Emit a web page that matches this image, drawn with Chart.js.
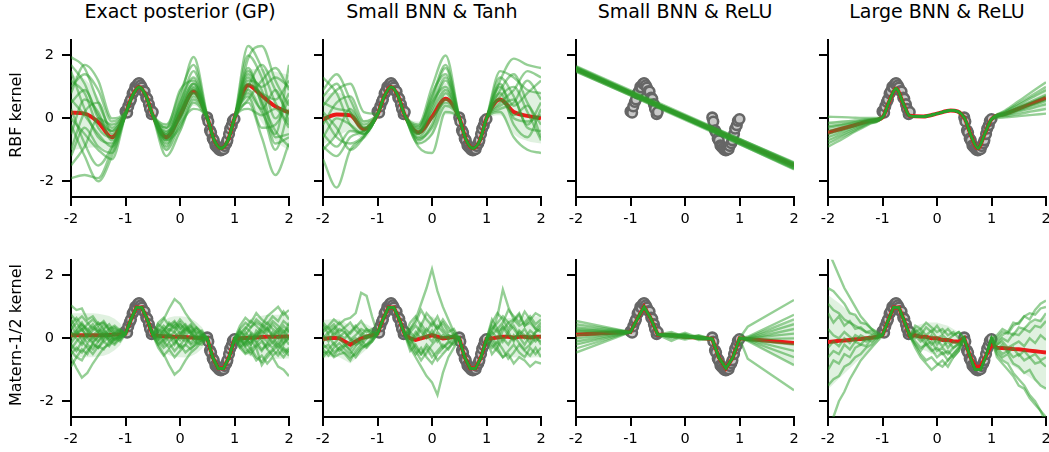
<!DOCTYPE html>
<html>
<head>
<meta charset="utf-8">
<script src="https://cdn.jsdelivr.net/npm/chart.js@4.4.1/dist/chart.umd.min.js"></script>
<style>
  body { margin: 0; background: #fff; }
  #fig { position: relative; width: 1049px; height: 452px; overflow: hidden; font-family: "DejaVu Sans", sans-serif; color: #000; }
  #fig canvas { position: absolute; }
  .col-title { position: absolute; width: 260px; text-align: center; font-size: 19px; line-height: 19px; white-space: nowrap; }
  .row-label { position: absolute; font-size: 16px; line-height: 16px; white-space: nowrap; transform: translate(-50%, -50%) rotate(-90deg); }
</style>
</head>
<body>
<div id="fig"></div>
<script>
// titles and axis ticks
const colTitles = ['Exact posterior (GP)', 'Small BNN & Tanh', 'Small BNN & ReLU', 'Large BNN & ReLU'];
const rowLabels = ['RBF kernel', 'Matern-1/2 kernel'];
const xTicks = [-2, -1, 0, 1, 2];
const xTickLabels = ['-2', '-1', '0', '1', '2'];
const yTicks = [-2, 0, 2];
const yTickLabels = ['-2', '0', '2'];

// x grids
const xGrid = [-2, -1.75, -1.5, -1.25, -1, -0.875, -0.75, -0.625, -0.5, -0.25, 0, 0.25, 0.5, 0.625, 0.75, 0.875, 1, 1.25, 1.5, 1.75, 2];
const xLine = [-2, 2];
const xRough = [-2, -1.9, -1.8, -1.7, -1.6, -1.5, -1.4, -1.3, -1.2, -1.1, -1, -0.9, -0.8, -0.7, -0.6, -0.5, -0.4, -0.3, -0.2, -0.1, 0,
  0.1, 0.2, 0.3, 0.4, 0.5, 0.6, 0.7, 0.8, 0.9, 1, 1.1, 1.2, 1.3, 1.4, 1.5, 1.6, 1.7, 1.8, 1.9, 2];
const xKink = [-2, -1, -0.875, -0.75, -0.625, -0.5, -0.25, 0, 0.25, 0.5, 0.625, 0.75, 0.875, 1, 1.15, 2];

// training data
const obsX = [-1.0, -0.97, -0.95, -0.92, -0.9, -0.87, -0.85, -0.82, -0.8, -0.77, -0.75, -0.72, -0.7, -0.67, -0.65, -0.62, -0.6, -0.57, -0.55, -0.52, -0.5,
  0.5, 0.52, 0.55, 0.57, 0.6, 0.62, 0.65, 0.67, 0.7, 0.72, 0.75, 0.77, 0.8, 0.82, 0.85, 0.87, 0.9, 0.92, 0.95, 0.97, 1.0];
const obsY = [0.22, 0.18, 0.38, 0.52, 0.6, 0.79, 0.85, 1.0, 0.98, 1.1, 1.12, 1.05, 0.98, 0.87, 0.85, 0.66, 0.62, 0.45, 0.3, 0.13, 0.2,
  0.03, -0.1, -0.38, -0.45, -0.64, -0.7, -0.86, -0.9, -0.95, -1.0, -1.02, -1.0, -0.98, -0.88, -0.79, -0.7, -0.5, -0.33, -0.22, -0.08, -0.02];

// --- row 1: RBF kernel ---
const gpRbfMean = [0.18, 0.15, -0.12, -0.6, 0.15, 0.72, 1.0, 0.72, 0.1, -0.6, 0.1, 0.85, 0.02, -0.68, -0.95, -0.72, 0.0, 1.05, 0.72, 0.38, 0.18];
const gpRbfUpper = [1.38, 1.25, 0.68, -0.15, 0.25, 0.8, 1.08, 0.8, 0.2, -0.15, 0.7, 1.3, 0.12, -0.6, -0.87, -0.64, 0.1, 1.55, 1.57, 1.48, 1.38];
const gpRbfLower = [-1.02, -0.95, -0.92, -1.05, 0.05, 0.64, 0.92, 0.64, 0.0, -1.05, -0.5, 0.4, -0.08, -0.76, -1.03, -0.8, -0.1, 0.55, -0.13, -0.72, -1.02];
const gpRbfSamples = [
  [1.95, 1.6, 0.5, -0.3, 0.2, 0.72, 1.0, 0.7, 0.12, -0.3, 0.6, 1.95, 0.1, -0.66, -0.95, -0.7, 0.02, 2.3, 1.6, 0.5, -0.2],
  [-1.9, -1.8, -1.9, -1.0, 0.1, 0.68, 0.98, 0.74, 0.08, -1.2, -0.4, 0.5, -0.05, -0.7, -0.97, -0.74, -0.02, 0.5, -0.6, -1.8, -0.8],
  [1.0, 1.4, 0.9, -0.1, 0.18, 0.7, 1.0, 0.72, 0.1, -0.5, 0.3, 1.1, 0.02, -0.68, -0.95, -0.72, 0.0, 1.9, 2.3, 1.2, 0.4],
  [0.3, -0.8, -1.5, -0.9, 0.12, 0.7, 1.0, 0.72, 0.1, -0.8, -0.1, 0.7, 0.0, -0.68, -0.94, -0.72, 0.0, 0.9, 0.2, -0.5, 1.7],
  [-0.5, 0.6, 0.2, -0.7, 0.15, 0.72, 1.0, 0.7, 0.1, -0.6, 0.4, 1.5, 0.05, -0.68, -0.96, -0.7, 0.0, 1.4, 1.0, 1.3, 1.0],
  [1.5, 0.3, -0.6, -0.8, 0.1, 0.7, 1.0, 0.72, 0.12, -0.4, 0.0, 0.9, 0.0, -0.7, -0.95, -0.72, 0.02, 0.7, -0.3, -0.2, 0.6],
  [-1.2, -0.3, -0.9, -1.1, 0.12, 0.7, 0.98, 0.72, 0.1, -0.9, 0.2, 0.8, 0.02, -0.68, -0.95, -0.7, -0.02, 1.2, 0.9, -0.6, -0.5],
  [0.8, 1.7, 1.2, 0.0, 0.2, 0.72, 1.0, 0.7, 0.1, -0.7, -0.3, 0.6, 0.0, -0.68, -0.94, -0.72, 0.0, 1.0, 1.7, 0.9, 0.1],
  [-0.2, -1.2, -2.0, -1.2, 0.1, 0.7, 1.0, 0.72, 0.1, -0.3, 0.9, 1.2, 0.05, -0.68, -0.95, -0.72, 0.0, 1.6, 0.4, -1.0, 0.3],
  [0.5, 0.9, 0.1, -0.4, 0.15, 0.72, 1.0, 0.72, 0.1, -0.55, 0.1, 0.95, 0.02, -0.66, -0.95, -0.72, 0.0, 1.1, 0.8, 0.6, 1.2],
  [-1.0, 0.2, 0.5, -0.5, 0.15, 0.7, 1.0, 0.7, 0.1, -1.0, -0.2, 0.3, 0.0, -0.7, -0.95, -0.72, 0.0, 0.3, 0.1, 0.3, -0.3],
  [1.2, 0.8, -0.3, -0.6, 0.12, 0.7, 1.0, 0.72, 0.1, -0.45, 0.5, 1.3, 0.02, -0.68, -0.95, -0.72, 0.0, 2.0, 1.3, 0.0, 0.8],
  [0.0, -0.5, -1.0, -1.3, 0.1, 0.7, 1.0, 0.72, 0.1, -0.7, 0.0, 0.8, 0.0, -0.68, -0.95, -0.72, 0.0, 0.8, 0.3, 0.9, -0.1],
  [-1.5, -0.9, 0.0, -0.2, 0.18, 0.72, 1.0, 0.7, 0.12, -0.2, 0.8, 1.7, 0.05, -0.66, -0.95, -0.7, 0.02, 1.3, 0.5, -0.4, -0.9],
  [0.6, 0.1, -0.5, -0.9, 0.12, 0.7, 1.0, 0.72, 0.08, -0.65, 0.2, 1.0, 0.0, -0.7, -0.95, -0.72, 0.0, 0.6, 1.2, 1.6, 0.9],
  [1.7, 1.1, 0.0, -0.4, 0.15, 0.72, 1.0, 0.72, 0.1, -0.5, 0.35, 1.1, 0.02, -0.68, -0.95, -0.72, 0.0, 1.5, 0.6, -0.8, -0.6]
];

const tanhRbfMean = [-0.03, 0.12, 0.1, -0.35, 0.12, 0.7, 1.0, 0.72, 0.1, -0.45, 0.05, 0.62, 0.02, -0.68, -0.95, -0.72, 0.0, 0.6, 0.2, 0.08, 0.0];
const tanhRbfUpper = [0.77, 0.82, 0.6, -0.05, 0.2, 0.78, 1.08, 0.8, 0.18, -0.1, 0.65, 1.12, 0.1, -0.6, -0.87, -0.64, 0.08, 1.1, 0.9, 0.88, 0.8];
const tanhRbfLower = [-0.83, -0.58, -0.4, -0.65, 0.04, 0.62, 0.92, 0.64, 0.02, -0.8, -0.55, 0.12, -0.06, -0.76, -1.03, -0.8, -0.08, 0.1, -0.5, -0.72, -0.8];
const tanhRbfSamples = [
  [0.9, 1.4, 0.6, -0.2, 0.15, 0.7, 1.0, 0.72, 0.1, -0.2, 1.0, 2.0, 0.05, -0.68, -0.95, -0.72, 0.0, 1.2, 1.9, 1.7, 1.6],
  [-1.3, -2.2, -1.0, -0.6, 0.1, 0.7, 1.0, 0.72, 0.1, -0.9, -1.1, 0.2, 0.0, -0.7, -0.95, -0.72, 0.0, 0.2, -0.6, -1.0, -1.1],
  [0.5, 0.3, 0.2, -0.3, 0.12, 0.7, 1.0, 0.72, 0.1, -0.3, 0.6, 1.6, 0.02, -0.68, -0.95, -0.72, 0.0, 1.0, 0.4, 0.8, 1.2],
  [-0.5, -0.9, -0.4, -0.45, 0.12, 0.7, 1.0, 0.72, 0.1, -0.6, 0.0, 0.5, 0.0, -0.68, -0.95, -0.72, 0.0, 0.4, 0.6, -0.3, -0.4],
  [1.3, 0.8, -0.2, -0.5, 0.12, 0.7, 1.0, 0.72, 0.1, -0.5, 0.3, 1.2, 0.02, -0.68, -0.95, -0.72, 0.0, 1.5, 1.3, 0.9, 0.8],
  [-0.2, 0.5, 0.7, -0.1, 0.15, 0.7, 1.0, 0.72, 0.1, -0.8, -0.5, 0.4, 0.0, -0.68, -0.95, -0.72, 0.0, 0.8, -0.2, -0.6, 0.3],
  [0.2, -0.3, -1.0, -0.6, 0.1, 0.7, 1.0, 0.72, 0.1, -0.35, 0.8, 1.4, 0.02, -0.68, -0.95, -0.72, 0.0, 0.7, 1.0, 0.2, -0.7],
  [-1.0, -0.5, 0.3, -0.3, 0.12, 0.7, 1.0, 0.72, 0.1, -0.7, -0.2, 0.8, 0.0, -0.68, -0.95, -0.72, 0.0, 0.3, 0.5, 1.2, 0.6],
  [0.7, 1.1, 0.2, -0.4, 0.12, 0.7, 1.0, 0.72, 0.1, -0.4, 0.2, 0.9, 0.02, -0.68, -0.95, -0.72, 0.0, 1.1, 0.0, -0.1, 0.1],
  [-0.6, 0.0, -0.2, -0.5, 0.12, 0.7, 1.0, 0.72, 0.1, -0.5, 0.5, 1.0, 0.0, -0.68, -0.95, -0.72, 0.0, 0.9, 1.4, 0.5, -0.2],
  [0.4, 0.9, 1.1, 0.2, 0.15, 0.7, 1.0, 0.72, 0.1, -0.25, 0.7, 1.7, 0.05, -0.68, -0.95, -0.72, 0.0, 0.5, 0.9, 1.5, 1.3],
  [-0.9, -1.2, -0.6, -0.4, 0.12, 0.7, 1.0, 0.72, 0.1, -0.65, -0.3, 0.6, 0.0, -0.68, -0.95, -0.72, 0.0, 0.6, 0.1, 0.4, -0.6],
  [0.1, -0.6, -0.8, -0.55, 0.1, 0.7, 1.0, 0.72, 0.1, -0.45, 0.4, 1.3, 0.02, -0.68, -0.95, -0.72, 0.0, 1.3, 0.7, -0.2, 0.5]
];

const smallReluRbfMean = [1.57, -1.5];
const smallReluRbfUpper = [1.64, -1.38];
const smallReluRbfLower = [1.5, -1.62];
const smallReluRbfSamples = [
  [1.62, -1.45], [1.52, -1.55], [1.66, -1.42], [1.5, -1.6], [1.58, -1.48], [1.55, -1.53],
  [1.64, -1.5], [1.53, -1.44], [1.6, -1.58], [1.57, -1.4], [1.48, -1.52], [1.6, -1.62]
];

const largeReluRbfMean = [-0.45, -0.33, -0.21, -0.09, 0.03, 0.55, 0.95, 0.5, 0.08, 0.06, 0.15, 0.25, 0.02, -0.55, -0.95, -0.5, -0.03, 0.14, 0.31, 0.48, 0.65];
const largeReluRbfUpper = [-0.1, -0.07, -0.05, -0.02, 0.08, 0.6, 1.0, 0.55, 0.12, 0.1, 0.19, 0.29, 0.06, -0.5, -0.9, -0.45, 0.01, 0.22, 0.47, 0.72, 0.97];
const largeReluRbfLower = [-0.8, -0.59, -0.37, -0.16, 0.0, 0.5, 0.9, 0.45, 0.04, 0.02, 0.11, 0.21, -0.02, -0.6, -1.0, -0.55, -0.07, 0.06, 0.15, 0.24, 0.33];
const largeReluRbfSamples = [
  [0.05, 0.04, 0.02, 0.01, 0.03, 0.55, 0.95, 0.5, 0.08, 0.06, 0.15, 0.25, 0.02, -0.55, -0.95, -0.5, -0.03, 0.25, 0.55, 0.85, 1.15],
  [-0.15, -0.11, -0.07, -0.03, 0.03, 0.55, 0.95, 0.5, 0.08, 0.06, 0.15, 0.25, 0.02, -0.55, -0.95, -0.5, -0.03, 0.2, 0.43, 0.67, 0.9],
  [-0.3, -0.22, -0.14, -0.06, 0.03, 0.55, 0.95, 0.5, 0.08, 0.06, 0.15, 0.25, 0.02, -0.55, -0.95, -0.5, -0.03, 0.17, 0.36, 0.56, 0.75],
  [-0.4, -0.3, -0.19, -0.08, 0.03, 0.55, 0.95, 0.5, 0.08, 0.06, 0.15, 0.25, 0.02, -0.55, -0.95, -0.5, -0.03, 0.13, 0.29, 0.44, 0.6],
  [-0.5, -0.37, -0.24, -0.1, 0.03, 0.55, 0.95, 0.5, 0.08, 0.06, 0.15, 0.25, 0.02, -0.55, -0.95, -0.5, -0.03, 0.1, 0.22, 0.33, 0.45],
  [-0.6, -0.44, -0.28, -0.13, 0.03, 0.55, 0.95, 0.5, 0.08, 0.06, 0.15, 0.25, 0.02, -0.55, -0.95, -0.5, -0.03, 0.07, 0.14, 0.22, 0.3],
  [-0.7, -0.52, -0.33, -0.15, 0.03, 0.55, 0.95, 0.5, 0.08, 0.06, 0.15, 0.25, 0.02, -0.55, -0.95, -0.5, -0.03, 0.03, 0.07, 0.11, 0.15],
  [-0.8, -0.59, -0.38, -0.17, 0.03, 0.55, 0.95, 0.5, 0.08, 0.06, 0.15, 0.25, 0.02, -0.55, -0.95, -0.5, -0.03, 0.22, 0.48, 0.74, 1.0],
  [-0.9, -0.67, -0.42, -0.19, 0.03, 0.55, 0.95, 0.5, 0.08, 0.06, 0.15, 0.25, 0.02, -0.55, -0.95, -0.5, -0.03, 0.12, 0.26, 0.41, 0.55],
  [-0.25, -0.19, -0.12, -0.05, 0.03, 0.55, 0.95, 0.5, 0.08, 0.06, 0.15, 0.25, 0.02, -0.55, -0.95, -0.5, -0.03, 0.15, 0.34, 0.52, 0.7]
];

// --- row 2: Matern-1/2 kernel ---
const gpMatMean = [0.1, 0.1, 0.1, 0.1, 0.1, 0.1, 0.1, 0.11, 0.12, 0.13, 0.15, 0.6, 0.98, 0.98, 0.6, 0.1,
  0.08, 0.07, 0.06, 0.05, 0.05, 0.04, 0.03, 0.02, 0.01, 0.0, -0.6, -0.95, -0.95, -0.6, -0.02,
  0.0, 0.01, 0.02, 0.03, 0.04, 0.05, 0.05, 0.05, 0.06, 0.06];
const gpMatUpper = [0.8, 0.8, 0.8, 0.8, 0.8, 0.78, 0.75, 0.71, 0.62, 0.48, 0.23, 0.68, 1.06, 1.06, 0.68, 0.18,
  0.43, 0.57, 0.66, 0.7, 0.7, 0.69, 0.63, 0.52, 0.36, 0.08, -0.52, -0.87, -0.87, -0.52, 0.06,
  0.35, 0.51, 0.62, 0.68, 0.72, 0.75, 0.75, 0.75, 0.76, 0.76];
const gpMatLower = [-0.6, -0.6, -0.6, -0.6, -0.6, -0.58, -0.55, -0.49, -0.38, -0.22, 0.07, 0.52, 0.9, 0.9, 0.52, 0.02,
  -0.27, -0.43, -0.54, -0.6, -0.6, -0.61, -0.57, -0.48, -0.34, -0.08, -0.68, -1.03, -1.03, -0.68, -0.1,
  -0.35, -0.49, -0.58, -0.62, -0.64, -0.65, -0.65, -0.65, -0.64, -0.64];
const gpMatSamples = [
  [1.05, 0.9, 0.95, 0.6, 0.7, 0.45, 0.5, 0.3, 0.35, 0.2, 0.15, 0.6, 0.98, 0.98, 0.6, 0.12, 0.35, 0.6, 0.95, 1.25, 1.1, 0.8, 0.55, 0.35, 0.15, 0.0, -0.6, -0.95, -0.95, -0.6, -0.02, 0.2, 0.1, 0.35, 0.5, 0.4, 0.7, 0.85, 1.0, 0.75, 0.9],
  [-0.6, -0.95, -1.25, -1.1, -0.8, -0.55, -0.3, -0.2, 0.0, 0.05, 0.12, 0.58, 0.97, 0.97, 0.62, 0.1, -0.2, -0.5, -0.85, -1.15, -1.0, -0.7, -0.45, -0.3, -0.1, 0.02, -0.62, -0.96, -0.95, -0.6, 0.0, -0.3, -0.5, -0.4, -0.7, -0.55, -0.8, -0.6, -0.9, -1.0, -1.2],
  [0.3, 0.5, 0.25, 0.45, 0.6, 0.4, 0.55, 0.3, 0.4, 0.25, 0.17, 0.62, 0.99, 0.97, 0.6, 0.13, 0.25, 0.1, 0.3, 0.2, 0.45, 0.3, 0.15, 0.3, 0.1, 0.01, -0.58, -0.94, -0.96, -0.62, -0.01, 0.3, 0.5, 0.35, 0.6, 0.45, 0.3, 0.55, 0.4, 0.2, 0.35],
  [-0.2, -0.4, -0.1, -0.3, -0.5, -0.25, -0.35, -0.1, -0.2, 0.0, 0.13, 0.6, 0.97, 0.99, 0.58, 0.11, -0.1, -0.3, -0.15, -0.4, -0.2, -0.45, -0.3, -0.2, -0.05, 0.0, -0.61, -0.95, -0.94, -0.59, -0.03, -0.2, -0.45, -0.3, -0.6, -0.75, -0.5, -0.35, -0.55, -0.3, -0.45],
  [0.6, 0.3, 0.5, 0.2, 0.0, 0.15, -0.1, 0.05, 0.2, 0.1, 0.15, 0.61, 0.98, 0.98, 0.61, 0.12, 0.2, 0.4, 0.25, 0.5, 0.35, 0.1, 0.25, -0.05, 0.1, 0.0, -0.6, -0.95, -0.95, -0.6, -0.02, 0.1, -0.1, 0.15, 0.0, 0.25, 0.1, -0.15, 0.05, -0.2, 0.1],
  [-0.9, -0.6, -0.7, -0.4, -0.2, -0.3, 0.0, 0.15, -0.05, 0.1, 0.14, 0.59, 0.98, 0.97, 0.6, 0.1, 0.0, -0.2, 0.1, -0.05, -0.25, 0.05, -0.15, 0.1, -0.05, 0.02, -0.6, -0.96, -0.95, -0.61, -0.02, -0.1, 0.2, -0.05, -0.3, -0.85, -0.6, -0.4, -0.2, -0.45, -0.3],
  [0.1, 0.25, -0.05, 0.15, 0.35, 0.2, 0.45, 0.25, 0.1, 0.2, 0.16, 0.6, 0.98, 0.98, 0.6, 0.13, 0.5, 0.65, 0.4, 0.55, 0.3, 0.45, 0.2, 0.35, 0.2, 0.01, -0.59, -0.95, -0.95, -0.6, -0.01, 0.4, 0.65, 0.5, 0.8, 0.6, 0.45, 0.7, 0.55, 0.85, 0.6],
  [0.4, 0.15, 0.3, 0.0, -0.15, 0.05, 0.2, -0.1, 0.05, -0.05, 0.14, 0.6, 0.98, 0.98, 0.6, 0.11, -0.3, -0.55, -0.35, -0.6, -0.4, -0.2, -0.35, -0.15, -0.2, 0.0, -0.6, -0.95, -0.95, -0.6, -0.02, 0.0, -0.2, 0.1, -0.15, 0.05, -0.1, 0.2, 0.0, 0.25, -0.05],
  [0.0, 0.2, 0.45, 0.3, 0.1, 0.25, 0.0, 0.2, 0.3, 0.15, 0.15, 0.6, 0.98, 0.98, 0.6, 0.12, 0.1, -0.1, -0.3, -0.15, 0.05, -0.1, 0.1, 0.05, 0.0, 0.0, -0.6, -0.95, -0.95, -0.6, -0.02, 0.15, 0.35, 0.2, 0.05, 0.3, 0.5, 0.3, 0.15, 0.4, 0.2],
  [-0.35, -0.1, 0.1, -0.15, 0.05, -0.1, 0.15, 0.0, -0.15, 0.05, 0.15, 0.6, 0.98, 0.98, 0.6, 0.12, 0.3, 0.2, 0.5, 0.35, 0.6, 0.4, 0.2, 0.0, -0.1, 0.0, -0.6, -0.95, -0.95, -0.6, -0.02, -0.05, -0.25, -0.1, 0.15, -0.05, -0.3, -0.1, -0.35, -0.15, 0.0],
  [0.75, 0.55, 0.7, 0.5, 0.3, 0.5, 0.3, 0.45, 0.2, 0.3, 0.15, 0.6, 0.98, 0.98, 0.6, 0.12, -0.05, 0.15, -0.1, 0.05, 0.2, 0.0, -0.2, -0.1, 0.05, 0.0, -0.6, -0.95, -0.95, -0.6, -0.02, 0.1, 0.3, 0.55, 0.4, 0.2, 0.35, 0.1, 0.3, 0.1, 0.5],
  [-0.5, -0.3, -0.45, -0.2, -0.35, -0.1, 0.1, -0.05, 0.1, 0.0, 0.15, 0.6, 0.98, 0.98, 0.6, 0.12, 0.15, -0.05, 0.2, 0.4, 0.15, 0.3, 0.45, 0.2, 0.1, 0.0, -0.6, -0.95, -0.95, -0.6, -0.02, -0.25, -0.1, -0.35, -0.2, -0.4, -0.15, -0.3, -0.1, -0.35, -0.55],
  [0.2, 0.0, -0.2, 0.1, -0.1, 0.05, 0.25, 0.1, -0.05, 0.1, 0.15, 0.6, 0.98, 0.98, 0.6, 0.12, 0.0, 0.25, 0.45, 0.3, 0.5, 0.2, 0.35, 0.1, 0.05, 0.0, -0.6, -0.95, -0.95, -0.6, -0.02, -0.15, 0.05, -0.2, 0.25, 0.1, 0.3, 0.05, 0.2, -0.1, 0.3],
  [-0.15, 0.1, 0.3, 0.05, 0.25, 0.35, 0.1, 0.3, 0.15, 0.05, 0.15, 0.6, 0.98, 0.98, 0.6, 0.12, -0.2, -0.05, 0.15, 0.0, -0.3, -0.2, 0.05, -0.15, -0.05, 0.0, -0.6, -0.95, -0.95, -0.6, -0.02, 0.25, 0.0, -0.2, 0.1, 0.4, 0.2, 0.45, 0.25, 0.55, 0.4],
  [0.45, 0.65, 0.4, 0.25, 0.45, 0.2, 0.3, 0.05, 0.15, 0.25, 0.15, 0.6, 0.98, 0.98, 0.6, 0.12, 0.45, 0.3, 0.05, 0.2, -0.05, 0.25, 0.4, 0.15, 0.25, 0.0, -0.6, -0.95, -0.95, -0.6, -0.02, -0.3, -0.15, 0.1, -0.1, -0.35, -0.2, 0.05, -0.25, 0.05, -0.2],
  [-0.4, -0.6, -0.35, -0.5, -0.15, -0.3, -0.1, -0.25, 0.0, -0.1, 0.15, 0.6, 0.98, 0.98, 0.6, 0.12, 0.05, 0.3, 0.1, -0.2, 0.1, 0.35, 0.15, -0.05, 0.15, 0.0, -0.6, -0.95, -0.95, -0.6, -0.02, 0.05, -0.3, -0.5, -0.25, -0.1, -0.35, -0.55, -0.4, -0.6, -0.35]
];

const tanhMatMean = [-0.02, 0.0, 0.02, 0.0, -0.1, -0.2, -0.1, 0.0, 0.05, 0.1, 0.15, 0.6, 0.98, 0.98, 0.6, 0.12,
  0.0, -0.05, 0.0, 0.05, 0.1, 0.05, 0.0, 0.02, 0.05, 0.0, -0.6, -0.95, -0.95, -0.6, -0.02,
  0.0, 0.03, 0.05, 0.05, 0.02, 0.05, 0.05, 0.03, 0.05, 0.05];
const tanhMatUpper = [0.58, 0.6, 0.62, 0.6, 0.5, 0.4, 0.45, 0.5, 0.45, 0.35, 0.23, 0.68, 1.06, 1.06, 0.68, 0.2,
  0.35, 0.45, 0.55, 0.65, 0.7, 0.6, 0.5, 0.4, 0.3, 0.08, -0.52, -0.87, -0.87, -0.52, 0.06,
  0.35, 0.5, 0.6, 0.65, 0.65, 0.7, 0.7, 0.68, 0.7, 0.7];
const tanhMatLower = [-0.62, -0.6, -0.58, -0.6, -0.7, -0.8, -0.65, -0.5, -0.35, -0.15, 0.07, 0.52, 0.9, 0.9, 0.52, 0.04,
  -0.35, -0.55, -0.55, -0.55, -0.5, -0.5, -0.5, -0.36, -0.2, -0.08, -0.68, -1.03, -1.03, -0.68, -0.1,
  -0.35, -0.44, -0.5, -0.55, -0.61, -0.6, -0.6, -0.62, -0.6, -0.6];
const tanhMatSamples = [
  [0.3, 0.4, 0.6, 0.45, 0.6, 0.65, 0.8, 1.45, 1.35, 0.7, 0.15, 0.6, 0.98, 0.98, 0.6, 0.12, 0.2, 0.0, 0.3, 0.1, -0.1, 0.2, 0.0, 0.1, 0.05, 0.0, -0.6, -0.95, -0.95, -0.6, -0.02, 0.3, 0.5, 0.7, 0.5, 0.6, 0.4, 0.5, 0.7, 0.45, 0.6],
  [-0.5, -0.4, -0.6, -0.5, -0.45, -0.6, -0.5, -0.3, -0.2, -0.1, 0.15, 0.6, 0.98, 0.98, 0.6, 0.12, 0.3, 0.6, 1.1, 1.6, 2.2, 1.5, 1.0, 0.6, 0.2, 0.0, -0.6, -0.95, -0.95, -0.6, -0.02, -0.2, -0.4, -0.6, -0.5, -0.8, -0.6, -0.7, -0.9, -0.75, -0.8],
  [0.1, -0.1, 0.2, 0.0, -0.2, -0.35, -0.1, 0.1, 0.0, 0.15, 0.15, 0.6, 0.98, 0.98, 0.6, 0.12, -0.3, -0.6, -0.9, -1.2, -1.4, -1.8, -1.1, -0.6, -0.3, 0.0, -0.6, -0.95, -0.95, -0.6, -0.02, 0.2, 0.7, 1.55, 1.0, 0.6, 0.8, 0.4, 0.5, 0.3, 0.2],
  [0.2, 0.35, 0.1, 0.3, 0.2, -0.05, 0.1, 0.3, 0.2, 0.3, 0.15, 0.6, 0.98, 0.98, 0.6, 0.12, 0.5, 0.7, 0.4, 0.8, 0.6, 0.3, 0.5, 0.2, 0.3, 0.0, -0.6, -0.95, -0.95, -0.6, -0.02, 0.6, 0.3, 0.5, 0.9, 0.7, 0.5, 0.85, 0.6, 0.8, 0.7],
  [-0.3, -0.2, -0.45, -0.3, -0.5, -0.7, -0.4, -0.2, -0.3, -0.1, 0.15, 0.6, 0.98, 0.98, 0.6, 0.12, -0.4, -0.2, -0.5, -0.3, -0.6, -0.4, -0.2, -0.35, -0.1, 0.0, -0.6, -0.95, -0.95, -0.6, -0.02, -0.5, -0.3, -0.6, -0.4, -0.2, -0.45, -0.6, -0.3, -0.5, -0.3],
  [0.5, 0.3, 0.45, 0.2, 0.35, 0.5, 0.25, 0.1, 0.3, 0.2, 0.15, 0.6, 0.98, 0.98, 0.6, 0.12, 0.1, -0.3, -0.5, -0.2, -0.4, -0.7, -0.5, -0.3, -0.1, 0.0, -0.6, -0.95, -0.95, -0.6, -0.02, 0.1, 0.3, -0.1, 0.2, 0.4, 0.1, 0.3, 0.0, 0.2, 0.4],
  [-0.1, 0.1, -0.2, 0.05, 0.2, 0.0, -0.2, -0.1, 0.1, 0.0, 0.15, 0.6, 0.98, 0.98, 0.6, 0.12, 0.3, 0.5, 0.9, 0.6, 0.4, 0.7, 0.3, 0.1, 0.0, 0.0, -0.6, -0.95, -0.95, -0.6, -0.02, -0.1, -0.3, 0.0, -0.2, 0.1, -0.15, -0.35, -0.2, 0.0, -0.1],
  [-0.6, -0.4, -0.55, -0.3, -0.2, -0.4, -0.6, -0.35, -0.2, 0.0, 0.15, 0.6, 0.98, 0.98, 0.6, 0.12, -0.1, 0.2, 0.0, 0.3, 0.1, 0.4, 0.2, 0.0, 0.1, 0.0, -0.6, -0.95, -0.95, -0.6, -0.02, 0.4, 0.2, 0.35, 0.1, -0.05, 0.2, 0.0, 0.25, 0.1, -0.2],
  [0.0, 0.2, 0.35, 0.1, 0.0, 0.2, 0.4, 0.2, 0.05, 0.2, 0.15, 0.6, 0.98, 0.98, 0.6, 0.12, -0.2, -0.5, -0.3, -0.6, -0.8, -0.5, -0.3, -0.1, -0.2, 0.0, -0.6, -0.95, -0.95, -0.6, -0.02, 0.0, -0.2, 0.25, 0.5, 0.3, 0.05, -0.2, 0.1, -0.1, 0.1],
  [-0.2, -0.35, -0.15, -0.4, -0.25, -0.1, 0.0, -0.2, 0.0, 0.05, 0.15, 0.6, 0.98, 0.98, 0.6, 0.12, 0.2, 0.4, 0.2, 0.0, 0.25, -0.1, 0.1, -0.05, 0.15, 0.0, -0.6, -0.95, -0.95, -0.6, -0.02, 0.2, 0.0, 0.4, 0.2, -0.1, 0.25, 0.1, -0.15, 0.2, 0.3],
  [0.4, 0.15, 0.3, 0.5, 0.3, 0.15, 0.35, 0.55, 0.3, 0.1, 0.15, 0.6, 0.98, 0.98, 0.6, 0.12, -0.2, 0.1, 0.45, 0.2, 0.5, 0.3, 0.6, 0.35, 0.1, 0.0, -0.6, -0.95, -0.95, -0.6, -0.02, 0.5, 0.8, 0.6, 0.3, 0.55, 0.75, 0.4, 0.6, 0.3, 0.5],
  [-0.35, -0.55, -0.3, -0.15, -0.35, -0.5, -0.25, -0.05, -0.25, -0.05, 0.15, 0.6, 0.98, 0.98, 0.6, 0.12, 0.0, -0.4, -0.7, -0.45, -0.2, 0.0, -0.3, -0.15, 0.0, 0.0, -0.6, -0.95, -0.95, -0.6, -0.02, -0.3, -0.1, -0.35, -0.65, -0.45, -0.2, -0.4, -0.55, -0.3, -0.6]
];

const smallReluMatMean = [0.12, 0.2, 0.62, 1.0, 0.62, 0.12, 0.1, 0.05, 0.02, -0.02, -0.62, -0.95, -0.62, 0.0, -0.02, -0.15];
const smallReluMatUpper = [0.45, 0.25, 0.66, 1.04, 0.66, 0.16, 0.16, 0.12, 0.08, 0.02, -0.58, -0.91, -0.58, 0.04, 0.05, 0.55];
const smallReluMatLower = [-0.2, 0.15, 0.58, 0.96, 0.58, 0.08, 0.04, -0.02, -0.04, -0.06, -0.66, -0.99, -0.66, -0.04, -0.09, -0.85];
const smallReluMatSamples = [
  [0.55, 0.2, 0.62, 1.0, 0.62, 0.12, 0.15, 0.05, 0.0, -0.02, -0.62, -0.95, -0.62, 0.0, 0.37, 1.22],
  [0.45, 0.2, 0.62, 1.0, 0.62, 0.12, 0.05, 0.18, 0.02, -0.02, -0.62, -0.95, -0.62, 0.0, 0.05, 0.75],
  [0.35, 0.2, 0.62, 1.0, 0.62, 0.12, 0.1, 0.0, 0.08, -0.02, -0.62, -0.95, -0.62, 0.0, 0.02, 0.6],
  [0.28, 0.2, 0.62, 1.0, 0.62, 0.12, -0.08, 0.1, 0.0, -0.02, -0.62, -0.95, -0.62, 0.0, 0.0, 0.45],
  [0.2, 0.2, 0.62, 1.0, 0.62, 0.12, 0.2, 0.05, 0.05, -0.02, -0.62, -0.95, -0.62, 0.0, -0.02, 0.3],
  [0.1, 0.2, 0.62, 1.0, 0.62, 0.12, 0.08, 0.12, -0.05, -0.02, -0.62, -0.95, -0.62, 0.0, 0.0, 0.15],
  [0.0, 0.2, 0.62, 1.0, 0.62, 0.12, 0.12, 0.02, 0.1, -0.02, -0.62, -0.95, -0.62, 0.0, -0.03, 0.0],
  [-0.1, 0.2, 0.62, 1.0, 0.62, 0.12, 0.0, 0.08, 0.04, -0.02, -0.62, -0.95, -0.62, 0.0, -0.05, -0.2],
  [-0.2, 0.2, 0.62, 1.0, 0.62, 0.12, 0.14, 0.1, -0.02, -0.02, -0.62, -0.95, -0.62, 0.0, -0.04, -0.4],
  [-0.32, 0.2, 0.62, 1.0, 0.62, 0.12, 0.06, -0.04, 0.06, -0.02, -0.62, -0.95, -0.62, 0.0, -0.06, -0.6],
  [-0.45, 0.2, 0.62, 1.0, 0.62, 0.12, 0.1, 0.06, 0.02, -0.02, -0.62, -0.95, -0.62, 0.0, -0.08, -0.85],
  [0.25, 0.2, 0.62, 1.0, 0.62, 0.12, 0.04, 0.14, 0.0, -0.02, -0.62, -0.95, -0.62, 0.0, -0.65, -1.65]
];

const largeReluMatMean = [-0.12, -0.1, -0.08, -0.07, -0.05, -0.03, -0.02, 0.0, 0.02, 0.05, 0.1, 0.55, 0.98, 0.98, 0.55, 0.08,
  0.1, 0.05, 0.05, 0.0, 0.0, -0.05, -0.05, -0.1, -0.1, 0.0, -0.55, -0.9, -0.9, -0.55, -0.2,
  -0.3, -0.31, -0.32, -0.34, -0.35, -0.37, -0.39, -0.41, -0.43, -0.45];
const largeReluMatUpper = [1.38, 1.25, 1.12, 0.98, 0.85, 0.72, 0.58, 0.45, 0.32, 0.25, 0.2, 0.65, 1.08, 1.08, 0.65, 0.18,
  0.4, 0.45, 0.5, 0.5, 0.5, 0.45, 0.4, 0.3, 0.2, 0.1, -0.45, -0.8, -0.8, -0.45, -0.1,
  -0.05, 0.04, 0.13, 0.21, 0.3, 0.38, 0.46, 0.54, 0.62, 0.7];
const largeReluMatLower = [-1.62, -1.45, -1.28, -1.12, -0.95, -0.78, -0.62, -0.45, -0.28, -0.15, 0.0, 0.45, 0.88, 0.88, 0.45, -0.02,
  -0.2, -0.35, -0.4, -0.5, -0.5, -0.55, -0.5, -0.5, -0.4, -0.1, -0.65, -1.0, -1.0, -0.65, -0.3,
  -0.55, -0.66, -0.77, -0.89, -1.0, -1.12, -1.24, -1.36, -1.48, -1.6];
const largeReluMatSamples = [
  [2.8, 2.4, 2.0, 1.6, 1.3, 1.0, 0.7, 0.5, 0.3, 0.2, 0.1, 0.55, 0.98, 0.98, 0.55, 0.08, 0.2, 0.3, 0.1, 0.25, 0.0, 0.1, -0.05, 0.1, 0.2, 0.0, -0.55, -1.0, -1.0, -0.55, 0.0, 0.0, 0.2, 0.15, 0.4, 0.5, 0.7, 0.6, 0.9, 1.1, 1.2],
  [-2.8, -2.5, -2.0, -1.7, -1.3, -1.0, -0.7, -0.5, -0.3, -0.1, 0.1, 0.55, 0.98, 0.98, 0.55, 0.08, -0.2, -0.5, -0.7, -0.6, -0.8, -0.9, -0.7, -0.5, -0.3, 0.0, -0.55, -1.0, -1.0, -0.55, 0.0, -0.5, -0.7, -0.8, -1.1, -1.3, -1.5, -1.8, -2.0, -2.3, -2.7],
  [1.6, 1.5, 1.3, 1.1, 0.8, 0.75, 0.5, 0.45, 0.3, 0.15, 0.1, 0.55, 0.98, 0.98, 0.55, 0.08, 0.4, 0.3, 0.5, 0.35, 0.2, 0.3, 0.1, 0.2, 0.0, 0.0, -0.55, -1.0, -1.0, -0.55, 0.0, -0.1, 0.1, 0.2, 0.1, 0.35, 0.3, 0.5, 0.6, 0.55, 0.8],
  [-1.5, -1.3, -1.2, -0.9, -0.8, -0.6, -0.5, -0.3, -0.2, 0.0, 0.1, 0.55, 0.98, 0.98, 0.55, 0.08, -0.1, -0.3, -0.2, -0.4, -0.3, -0.5, -0.4, -0.6, -0.4, 0.0, -0.55, -1.0, -1.0, -0.55, 0.0, -0.4, -0.6, -0.5, -0.8, -0.9, -1.1, -1.0, -1.3, -1.5, -1.6],
  [0.8, 0.5, 0.7, 0.4, 0.55, 0.3, 0.35, 0.2, 0.25, 0.1, 0.1, 0.55, 0.98, 0.98, 0.55, 0.08, 0.1, -0.1, 0.05, -0.2, -0.05, -0.25, -0.1, -0.3, -0.15, 0.0, -0.55, -1.0, -1.0, -0.55, 0.0, -0.2, -0.1, -0.3, -0.2, -0.1, -0.25, 0.0, -0.15, 0.1, -0.05],
  [-0.6, -0.4, -0.5, -0.2, -0.35, -0.1, -0.2, 0.0, -0.1, 0.05, 0.1, 0.55, 0.98, 0.98, 0.55, 0.08, 0.3, 0.1, 0.35, 0.2, 0.4, 0.15, 0.3, 0.1, 0.2, 0.0, -0.55, -1.0, -1.0, -0.55, 0.0, -0.3, -0.5, -0.4, -0.6, -0.5, -0.7, -0.6, -0.8, -0.75, -0.9],
  [0.3, 0.1, 0.0, 0.2, 0.05, -0.1, 0.1, 0.0, 0.1, 0.05, 0.1, 0.55, 0.98, 0.98, 0.55, 0.08, -0.3, -0.6, -0.8, -1.0, -0.85, -0.7, -0.9, -0.6, -0.4, 0.0, -0.55, -1.0, -1.0, -0.55, 0.0, 0.1, 0.3, 0.2, 0.5, 0.45, 0.7, 0.8, 0.75, 0.95, 1.0],
  [-1.0, -0.7, -0.8, -0.5, -0.6, -0.3, -0.2, -0.25, 0.0, 0.0, 0.1, 0.55, 0.98, 0.98, 0.55, 0.08, 0.0, 0.2, -0.1, 0.1, -0.2, 0.0, -0.3, -0.1, -0.2, 0.0, -0.55, -1.0, -1.0, -0.55, 0.0, -0.6, -0.8, -1.0, -1.2, -1.5, -1.6, -1.9, -2.1, -2.3, -2.5],
  [1.1, 0.9, 0.8, 0.6, 0.5, 0.4, 0.3, 0.2, 0.15, 0.1, 0.1, 0.55, 0.98, 0.98, 0.55, 0.08, 0.2, 0.0, -0.2, -0.1, -0.4, -0.3, -0.5, -0.3, -0.2, 0.0, -0.55, -1.0, -1.0, -0.55, 0.0, -0.2, 0.0, -0.1, 0.15, 0.1, 0.3, 0.2, 0.4, 0.35, 0.55],
  [-0.3, -0.1, -0.25, 0.0, -0.15, 0.1, 0.0, -0.1, 0.05, 0.0, 0.1, 0.55, 0.98, 0.98, 0.55, 0.08, -0.2, -0.4, -0.15, -0.35, -0.6, -0.45, -0.7, -0.5, -0.3, 0.0, -0.55, -1.0, -1.0, -0.55, 0.0, -0.35, -0.2, -0.45, -0.3, -0.55, -0.4, -0.6, -0.5, -0.7, -0.6]
];

// 面板設定
const panels = [
  { row: 0, col: 0, xs: xGrid, mean: gpRbfMean, upper: gpRbfUpper, lower: gpRbfLower, samples: gpRbfSamples, smooth: true },
  { row: 0, col: 1, xs: xGrid, mean: tanhRbfMean, upper: tanhRbfUpper, lower: tanhRbfLower, samples: tanhRbfSamples, smooth: true },
  { row: 0, col: 2, xs: xLine, mean: smallReluRbfMean, upper: smallReluRbfUpper, lower: smallReluRbfLower, samples: smallReluRbfSamples, smooth: false },
  { row: 0, col: 3, xs: xGrid, mean: largeReluRbfMean, upper: largeReluRbfUpper, lower: largeReluRbfLower, samples: largeReluRbfSamples, smooth: true },
  { row: 1, col: 0, xs: xRough, mean: gpMatMean, upper: gpMatUpper, lower: gpMatLower, samples: gpMatSamples, smooth: false },
  { row: 1, col: 1, xs: xRough, mean: tanhMatMean, upper: tanhMatUpper, lower: tanhMatLower, samples: tanhMatSamples, smooth: false },
  { row: 1, col: 2, xs: xKink, mean: smallReluMatMean, upper: smallReluMatUpper, lower: smallReluMatLower, samples: smallReluMatSamples, smooth: false },
  { row: 1, col: 3, xs: xRough, mean: largeReluMatMean, upper: largeReluMatUpper, lower: largeReluMatLower, samples: largeReluMatSamples, smooth: false }
];

// layout (pixels)
const colLeft = [71, 323, 576, 828];
const rowTop = [33, 253];
const plotW = 218, plotH = 164;
const PAD_L = 60, PAD_R = 14, PAD_T = 10, PAD_B = 36;

const GREEN = 'rgba(44,160,44,0.5)';
const BAND = 'rgba(44,160,44,0.15)';
const RED = 'rgb(235,25,25)';

Chart.defaults.font.family = '"DejaVu Sans", sans-serif';
Chart.defaults.font.size = 14.5;
Chart.defaults.color = '#000';

const fig = document.getElementById('fig');

function pts(xs, ys) {
  return xs.map((x, i) => ({ x: x, y: ys[i] }));
}

function lineSet(xs, ys, color, width, order, smooth) {
  return {
    data: pts(xs, ys),
    borderColor: color,
    borderWidth: width,
    pointRadius: 0,
    fill: false,
    order: order,
    tension: smooth ? 0.4 : 0,
    cubicInterpolationMode: smooth ? 'monotone' : 'default',
    clip: 0
  };
}

function drawPanel(p) {
  const canvas = document.createElement('canvas');
  canvas.width = PAD_L + plotW + PAD_R;
  canvas.height = PAD_T + plotH + PAD_B;
  canvas.style.left = (colLeft[p.col] - PAD_L) + 'px';
  canvas.style.top = (rowTop[p.row] - PAD_T) + 'px';
  fig.appendChild(canvas);

  const datasets = [];
  p.samples.forEach(s => datasets.push(lineSet(p.xs, s, GREEN, 2.4, 0, p.smooth)));
  datasets.push(lineSet(p.xs, p.mean, RED, 4, 1, p.smooth));
  datasets.push({
    data: pts(obsX, obsY),
    showLine: false,
    pointRadius: 4.8,
    pointBackgroundColor: '#c8c8c8',
    pointBorderColor: '#666666',
    pointBorderWidth: 2.6,
    order: 2
  });
  const lower = lineSet(p.xs, p.lower, 'rgba(0,0,0,0)', 0, 3, p.smooth);
  const upper = lineSet(p.xs, p.upper, 'rgba(0,0,0,0)', 0, 3, p.smooth);
  upper.fill = '-1';
  upper.backgroundColor = BAND;
  datasets.push(lower, upper);

  const showYLabels = p.col === 0;
  new Chart(canvas, {
    type: 'line',
    data: { datasets: datasets },
    options: {
      responsive: false,
      animation: false,
      events: [],
      layout: { padding: { top: PAD_T, right: PAD_R, left: 0, bottom: 0 } },
      plugins: { legend: { display: false }, tooltip: { enabled: false } },
      scales: {
        x: {
          type: 'linear', min: -2, max: 2, z: 1,
          afterFit: s => { s.height = PAD_B; },
          afterBuildTicks: s => { s.ticks = xTicks.map(v => ({ value: v })); },
          ticks: { autoSkip: false, maxRotation: 0, padding: 5, callback: (v, i) => xTickLabels[i] },
          grid: { drawOnChartArea: false, tickLength: 9, tickWidth: 2, tickColor: '#000', lineWidth: 2, color: '#000' },
          border: { display: true, color: '#000', width: 2 }
        },
        y: {
          type: 'linear', min: -2.5, max: 2.5, z: 1,
          afterFit: s => { s.width = PAD_L; },
          afterBuildTicks: s => { s.ticks = yTicks.map(v => ({ value: v })); },
          ticks: { autoSkip: false, padding: 8, callback: (v, i) => showYLabels ? yTickLabels[i] : '' },
          grid: { drawOnChartArea: false, tickLength: 9, tickWidth: 2, tickColor: '#000', lineWidth: 2, color: '#000' },
          border: { display: true, color: '#000', width: 2 }
        }
      }
    }
  });
}

panels.forEach(drawPanel);

// column titles
colTitles.forEach((t, c) => {
  const d = document.createElement('div');
  d.className = 'col-title';
  d.textContent = t;
  d.style.left = (colLeft[c] + plotW / 2 - 130) + 'px';
  d.style.top = '2px';
  fig.appendChild(d);
});

// row labels
rowLabels.forEach((t, r) => {
  const d = document.createElement('div');
  d.className = 'row-label';
  d.textContent = t;
  d.style.left = '16px';
  d.style.top = (rowTop[r] + plotH / 2) + 'px';
  fig.appendChild(d);
});
</script>
</body>
</html>
